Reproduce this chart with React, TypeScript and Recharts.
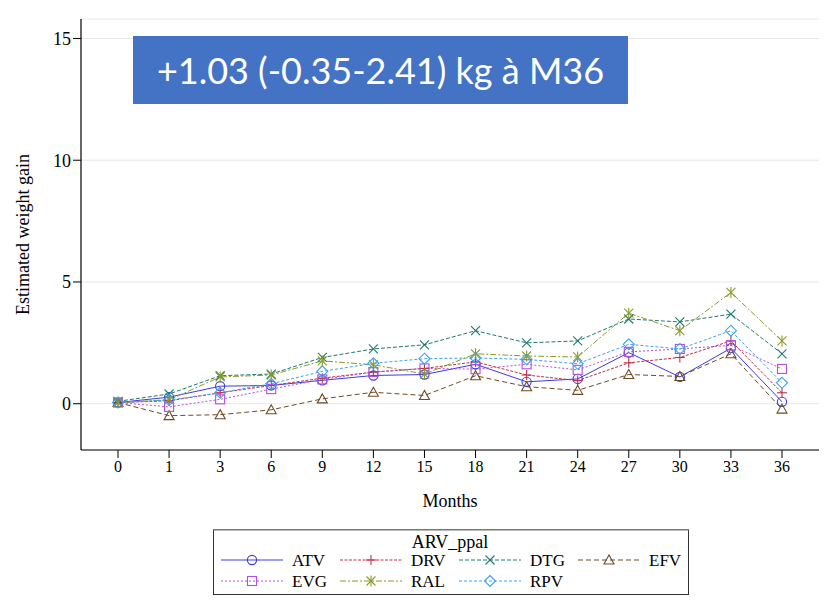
import React from 'react';
import { LineChart, Line, XAxis, YAxis, CartesianGrid } from 'recharts';

const months = ['0', '1', '3', '6', '9', '12', '15', '18', '21', '24', '27', '30', '33', '36'];
const ATV = [0.05, 0.27, 0.72, 0.75, 0.96, 1.16, 1.2, 1.62, 0.9, 1.02, 2.1, 1.1, 2.28, 0.08];
const DRV = [0.05, 0.12, 0.45, 0.75, 1.05, 1.3, 1.45, 1.72, 1.18, 0.95, 1.68, 1.9, 2.58, 0.45];
const DTG = [0.1, 0.4, 1.15, 1.22, 1.9, 2.25, 2.42, 3.0, 2.5, 2.58, 3.48, 3.36, 3.68, 2.05];
const EFV = [0.05, -0.49, -0.45, -0.25, 0.2, 0.47, 0.34, 1.15, 0.7, 0.55, 1.2, 1.12, 2.05, -0.22];
const EVG = [0.05, -0.13, 0.18, 0.6, 1.0, 1.3, 1.45, 1.42, 1.62, 1.39, 2.13, 2.25, 2.4, 1.43];
const RAL = [0.05, 0.16, 1.1, 1.18, 1.76, 1.6, 1.22, 2.05, 1.96, 1.92, 3.72, 3.0, 4.57, 2.58];
const RPV = [0.05, 0.15, 0.45, 0.82, 1.33, 1.66, 1.85, 1.88, 1.82, 1.64, 2.44, 2.25, 3.0, 0.86];
const yTicks = [0, 5, 10, 15];
const titleText = '+1.03 (-0.35-2.41) kg à M36';

const seriesDefs = [
  { key: 'ATV', values: ATV, color: '#3c3ce0', dash: undefined as string | undefined, marker: 'circle' },
  { key: 'DRV', values: DRV, color: '#c0304a', dash: '3 1.5', marker: 'plus' },
  { key: 'DTG', values: DTG, color: '#1f7a6e', dash: '4 2', marker: 'x' },
  { key: 'EFV', values: EFV, color: '#6e4b26', dash: '5 3', marker: 'triangle' },
  { key: 'EVG', values: EVG, color: '#b050e0', dash: '2 2', marker: 'square' },
  { key: 'RAL', values: RAL, color: '#8a9a2a', dash: '6 2 2 2', marker: 'star' },
  { key: 'RPV', values: RPV, color: '#3ea2f2', dash: '3 2', marker: 'diamond' },
];

const data = months.map((m, i) => {
  const row: any = { month: m };
  seriesDefs.forEach((s) => {
    row[s.key] = s.values[i];
  });
  return row;
});

const FONT = 'Liberation Serif';

function Marker({ type, cx, cy, color }: { type: string; cx: number; cy: number; color: string }) {
  const p = { stroke: color, strokeWidth: 1.1, fill: 'none' };
  switch (type) {
    case 'circle':
      return <circle cx={cx} cy={cy} r={4.6} {...p} />;
    case 'plus':
      return (
        <g {...p}>
          <line x1={cx - 5} y1={cy} x2={cx + 5} y2={cy} />
          <line x1={cx} y1={cy - 5} x2={cx} y2={cy + 5} />
        </g>
      );
    case 'x':
      return (
        <g {...p}>
          <line x1={cx - 4.5} y1={cy - 4.5} x2={cx + 4.5} y2={cy + 4.5} />
          <line x1={cx - 4.5} y1={cy + 4.5} x2={cx + 4.5} y2={cy - 4.5} />
        </g>
      );
    case 'triangle':
      return <polygon points={`${cx},${cy - 5} ${cx - 5},${cy + 4} ${cx + 5},${cy + 4}`} {...p} />;
    case 'square':
      return <rect x={cx - 4.5} y={cy - 4.5} width={9} height={9} {...p} />;
    case 'star':
      return (
        <g {...p}>
          <line x1={cx - 4.5} y1={cy - 4.5} x2={cx + 4.5} y2={cy + 4.5} />
          <line x1={cx - 4.5} y1={cy + 4.5} x2={cx + 4.5} y2={cy - 4.5} />
          <line x1={cx} y1={cy - 5.5} x2={cx} y2={cy + 5.5} />
        </g>
      );
    case 'diamond':
      return <polygon points={`${cx},${cy - 5.5} ${cx + 5.5},${cy} ${cx},${cy + 5.5} ${cx - 5.5},${cy}`} {...p} />;
    default:
      return null;
  }
}

function LegendBox() {
  const colW = 119;
  return (
    <svg width={476} height={66} style={{ position: 'absolute', left: 213, top: 529 }}>
      <rect x={0.5} y={0.5} width={475} height={65} fill="#fff" stroke="#333" strokeWidth={1} />
      <line x1={0} y1={0.75} x2={476} y2={0.75} stroke="#777" strokeWidth={1.5} />
      <text x={237} y={19} textAnchor="middle" fontFamily={FONT} fontSize={18} fill="#000">
        ARV_ppal
      </text>
      {seriesDefs.map((s, i) => {
        const row = Math.floor(i / 4);
        const col = i % 4;
        const x0 = 8 + col * colW;
        const y = 31 + row * 21;
        return (
          <g key={s.key}>
            <line x1={x0} y1={y} x2={x0 + 62} y2={y} stroke={s.color} strokeWidth={1} strokeDasharray={s.dash} />
            <Marker type={s.marker} cx={x0 + 31} cy={y} color={s.color} />
            <text x={x0 + 71} y={y + 5.5} fontFamily={FONT} fontSize={17} fill="#000">
              {s.key}
            </text>
          </g>
        );
      })}
    </svg>
  );
}

export default function App() {
  return (
    <div style={{ position: 'absolute', left: 0, top: 0, width: 825, height: 604, background: '#fff', fontFamily: FONT }}>
      <LineChart width={825} height={604} data={data} margin={{ top: 19, right: 6, bottom: 114, left: 0 }} style={{ fontFamily: FONT }}>
        <CartesianGrid horizontal={true} vertical={false} stroke="#e8e8e8" strokeWidth={1} />
        <XAxis
          dataKey="month"
          type="category"
          padding={{ left: 37, right: 37 }}
          height={40}
          tickSize={8}
          tickMargin={3}
          stroke="#000"
          tick={{ fill: '#000', fontSize: 16, fontFamily: FONT }}
          axisLine={{ stroke: '#000', strokeWidth: 1.2 }}
          tickLine={{ stroke: '#000' }}
          interval={0}
          label={{ value: 'Months', position: 'bottom', offset: 4, fontSize: 18, fontFamily: FONT, fill: '#000' }}
        />
        <XAxis
          xAxisId="top"
          dataKey="month"
          orientation="top"
          height={0}
          tick={false}
          tickLine={false}
          axisLine={{ stroke: '#000', strokeWidth: 1.2 }}
        />
        <YAxis
          type="number"
          domain={[-1.9, 15.8]}
          ticks={yTicks}
          width={81}
          tickSize={8}
          tickMargin={2}
          allowDataOverflow={true}
          tick={{ fill: '#000', fontSize: 18, fontFamily: FONT }}
          axisLine={{ stroke: '#000', strokeWidth: 1.2 }}
          tickLine={{ stroke: '#000' }}
          label={{ value: 'Estimated weight gain', angle: -90, position: 'center', dx: -18, fontSize: 18, fontFamily: FONT, fill: '#000' }}
        />
        <YAxis
          yAxisId="right"
          orientation="right"
          width={0}
          domain={[0, 1]}
          tick={false}
          tickLine={false}
          axisLine={{ stroke: '#000', strokeWidth: 1.2 }}
        />
        {seriesDefs.map((s) => (
          <Line
            key={s.key}
            dataKey={s.key}
            stroke={s.color}
            strokeWidth={1}
            strokeDasharray={s.dash}
            isAnimationActive={false}
            dot={(props: any) => (
              <Marker key={`${s.key}-${props.index}`} type={s.marker} cx={props.cx} cy={props.cy} color={s.color} />
            )}
            activeDot={false}
          />
        ))}
      </LineChart>
      <div
        style={{
          position: 'absolute',
          left: 133,
          top: 36,
          width: 495,
          height: 68,
          background: '#4472c4',
          color: '#fff',
          fontFamily: 'Lato',
          fontSize: 36,
          display: 'flex',
          alignItems: 'center',
          justifyContent: 'center',
          whiteSpace: 'nowrap',
        }}
      >
        {titleText}
      </div>
      <LegendBox />
    </div>
  );
}
